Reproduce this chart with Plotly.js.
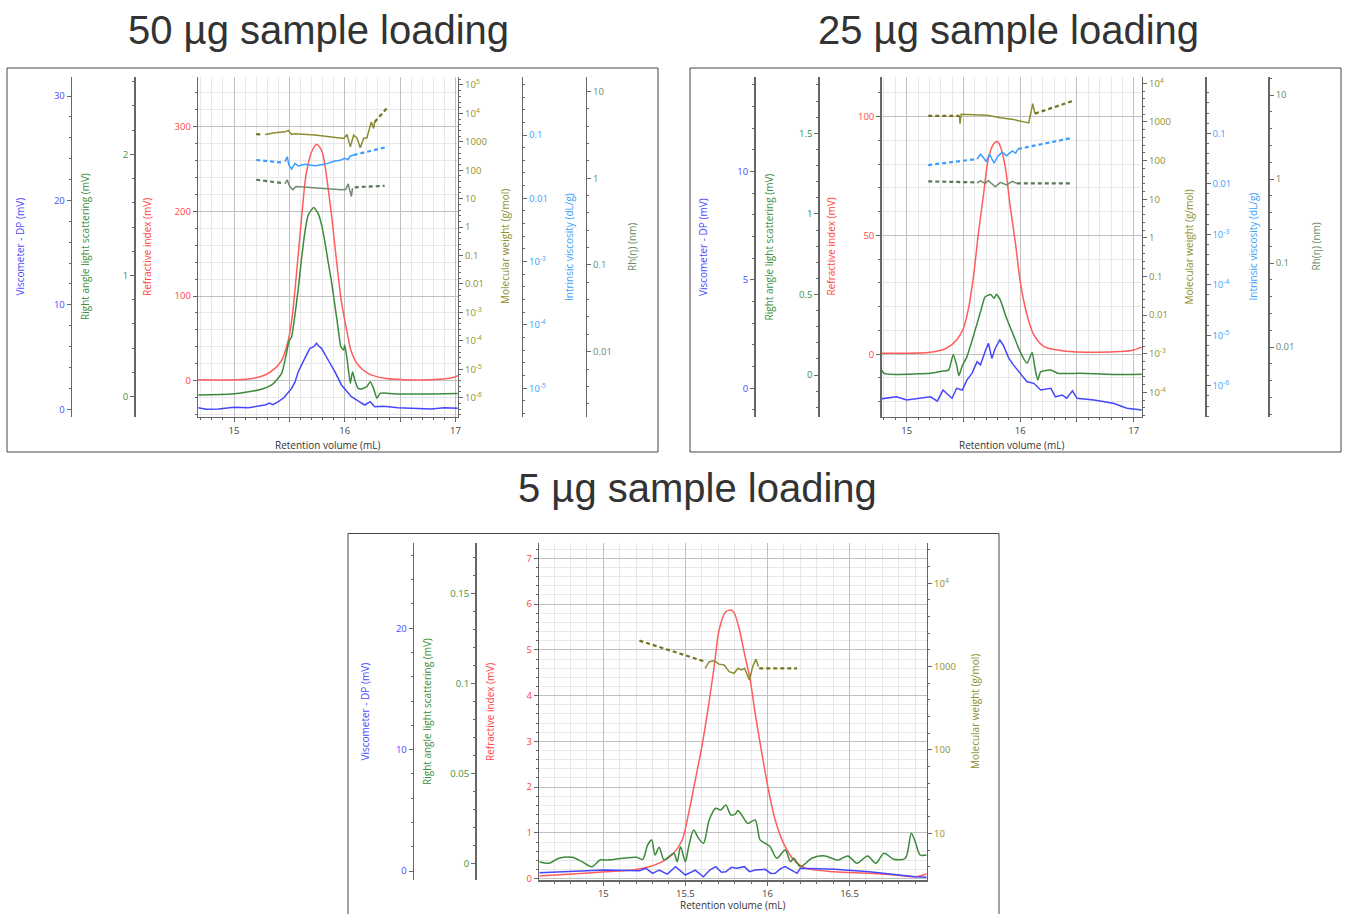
<!DOCTYPE html>
<html><head><meta charset="utf-8">
<script src="https://cdn.plot.ly/plotly-3.0.1.min.js"></script>
<style>html,body{margin:0;padding:0;background:#fff;}#chart{width:1346px;height:914px;}</style>
</head><body><div id="chart"></div>
<script>
// ---------------- DATA ----------------
// Panel 1: 50 µg
const p1_ri_x = [14.67,15.13,15.28,15.37,15.43,15.47,15.50,15.53,15.56,15.59,15.62,15.65,15.70,15.745,15.79,15.82,15.85,15.88,15.91,15.94,15.97,16.02,16.06,16.12,16.21,16.36,16.64,16.85,16.97,17.05];
const p1_ri_y = [1,2,6.7,14.6,24,38,54,81,121,164,207,243,270,279,272,255,227,196,160,125,93,58,34,18.5,8.7,2.8,0.8,1.6,3.5,7.5];
const p1_rals_x = [14.67,14.98,15.22,15.34,15.43,15.47,15.495,15.52,15.55,15.58,15.61,15.64,15.67,15.72,15.76,15.79,15.82,15.85,15.88,15.91,15.94,15.965,15.99,16.00,16.02,16.05,16.07,16.09,16.12,16.15,16.20,16.23,16.26,16.29,16.32,16.48,16.78,17.05];
const p1_rals_y = [0.014,0.022,0.055,0.097,0.193,0.344,0.454,0.495,0.674,0.894,1.142,1.36,1.50,1.56,1.51,1.42,1.28,1.11,0.95,0.757,0.564,0.41,0.385,0.427,0.317,0.11,0.206,0.138,0.069,0.064,0.083,0.124,0.069,-0.013,0.028,0.022,0.022,0.028];
const p1_visc_x = [14.67,14.75,14.86,15.0,15.13,15.22,15.28,15.32,15.35,15.40,15.45,15.47,15.52,15.55,15.58,15.64,15.685,15.72,15.745,15.76,15.79,15.85,15.91,15.97,16.06,16.12,16.18,16.23,16.27,16.35,16.48,16.6,16.78,16.9,17.05];
const p1_visc_y = [0.15,0.0,0.03,0.2,0.15,0.3,0.41,0.6,0.45,0.73,1.1,1.37,2.0,2.6,3.6,4.9,5.84,6.0,6.32,6.1,5.84,4.72,3.6,2.33,1.21,0.8,0.41,0.73,0.25,0.3,0.15,0.1,0.03,0.15,0.1];
const p1_mw_x = [15.28,15.37,15.46,15.49,15.52,15.55,15.73,15.88,15.99,16.02,16.05,16.08,16.11,16.14,16.17,16.20,16.23,16.24,16.26,16.27];
const p1_mw_y = [1820,2089,2239,2512,1820,1905,1738,1479,1318,1820,661,1738,1380,617,1318,1380,3890,5012,2951,5012];
const p1_mw_dl_x = [15.20,15.26], p1_mw_dl_y = [1862,1820];
const p1_mw_dr_x = [16.27,16.39], p1_mw_dr_y = [5012,16980];
const p1_iv_x = [15.46,15.48,15.495,15.52,15.55,15.58,15.64,15.73,15.82,15.91,15.96,16.00,16.03,16.05,16.08];
const p1_iv_y = [0.0380,0.0454,0.0336,0.0290,0.0357,0.0324,0.0344,0.0327,0.0344,0.0389,0.0400,0.0429,0.0410,0.0466,0.0483];
const p1_iv_dl_x = [15.20,15.44], p1_iv_dl_y = [0.0403,0.0366];
const p1_iv_dr_x = [16.08,16.39], p1_iv_dr_y = [0.0483,0.0653];
const p1_rh_x = [15.46,15.48,15.50,15.53,15.56,15.73,15.97,16.01,16.03,16.06,16.07];
const p1_rh_y = [0.861,0.959,0.817,0.734,0.802,0.767,0.734,0.746,0.861,0.615,0.767];
const p1_rh_dl_x = [15.20,15.45], p1_rh_dl_y = [0.959,0.875];
const p1_rh_dr_x = [16.09,16.36], p1_rh_dr_y = [0.785,0.817];

// Panel 2: 25 µg
const p2_ri_x = [14.77,15.21,15.35,15.44,15.50,15.545,15.59,15.63,15.68,15.72,15.77,15.80,15.825,15.87,15.91,15.96,16.00,16.06,16.12,16.21,16.38,16.68,16.88,17.00,17.08];
const p2_ri_y = [0.4,0.8,2.5,6.0,10.9,19.4,33.4,50.2,68.4,82.5,88.8,89.5,87.4,78.3,62.8,46,30.6,16.5,8.1,3.2,1.4,0.8,1.1,1.8,3.2];
const p2_rals_x = [14.77,14.80,14.91,15.21,15.32,15.37,15.41,15.44,15.46,15.49,15.53,15.59,15.65,15.69,15.74,15.77,15.79,15.825,15.88,15.94,16.00,16.06,16.105,16.13,16.155,16.18,16.27,16.33,16.53,16.82,17.08];
const p2_rals_y = [0.041,0.011,0.004,0.011,0.025,0.031,0.128,0.062,-0.004,0.058,0.113,0.248,0.392,0.485,0.50,0.476,0.502,0.465,0.352,0.248,0.144,0.073,0.141,0.042,-0.031,0.020,0.031,0.011,0.011,0.004,0.006];
const p2_visc_x = [14.77,14.91,15.00,15.09,15.21,15.27,15.32,15.35,15.40,15.44,15.49,15.53,15.575,15.62,15.65,15.69,15.72,15.75,15.78,15.82,15.85,15.90,15.94,16.00,16.06,16.12,16.18,16.27,16.31,16.37,16.41,16.46,16.50,16.65,16.82,16.94,17.08];
const p2_visc_y = [-0.49,-0.39,-0.54,-0.49,-0.39,-0.59,-0.08,-0.23,-0.46,0,-0.08,0.38,0.69,1.23,1.08,1.69,2.08,1.38,1.85,2.23,2.0,1.38,1.08,0.69,0.30,0.23,-0.08,0,-0.39,-0.31,-0.46,-0.12,-0.46,-0.54,-0.69,-0.92,-1.00];
const p2_mw_x = [15.465,15.47,15.48,15.53,15.71,15.825,15.94,16.075,16.10,16.11,16.13];
const p2_mw_y = [1430,904,1574,1549,1483,1288,1148,942,2188,2951,1641];
const p2_mw_dl_x = [15.19,15.465], p2_mw_dl_y = [1429,1429];
const p2_mw_dr_x = [16.13,16.46], p2_mw_dr_y = [1641,3467];
const p2_iv_x = [15.62,15.65,15.68,15.70,15.73,15.77,15.80,15.84,15.88,15.93,15.96,15.98];
const p2_iv_y = [0.0310,0.0384,0.0320,0.0274,0.0384,0.0255,0.0344,0.0421,0.0360,0.0447,0.0402,0.0489];
const p2_iv_dl_x = [15.19,15.62], p2_iv_dl_y = [0.0235,0.0310];
const p2_iv_dr_x = [15.98,16.44], p2_iv_dr_y = [0.0489,0.0796];
const p2_rh_x = [15.63,15.65,15.69,15.72,15.78,15.825,15.88,15.93,15.97];
const p2_rh_y = [0.914,0.955,0.889,0.955,0.809,0.914,0.855,0.940,0.889];
const p2_rh_dl_x = [15.19,15.63], p2_rh_dl_y = [0.940,0.914];
const p2_rh_dr_x = [15.97,16.44], p2_rh_dr_y = [0.889,0.889];

// Panel 3: 5 µg
const p3_ri_x = [14.61,14.81,15.01,15.18,15.28,15.36,15.42,15.48,15.52,15.56,15.60,15.64,15.675,15.705,15.745,15.78,15.80,15.83,15.86,15.895,15.925,15.966,16.006,16.047,16.098,16.16,16.23,16.41,16.62,16.78,16.90,16.97];
const p3_ri_y = [0.06,0.10,0.15,0.19,0.26,0.37,0.52,0.84,1.43,2.15,2.88,3.76,4.63,5.43,5.83,5.87,5.79,5.43,4.92,4.34,3.61,2.74,1.94,1.28,0.77,0.41,0.23,0.15,0.12,0.08,0.04,0.10];
const p3_rals_x = [14.61,14.67,14.73,14.81,14.87,14.93,14.98,15.03,15.12,15.20,15.24,15.27,15.295,15.315,15.34,15.37,15.40,15.43,15.45,15.47,15.50,15.52,15.55,15.58,15.61,15.645,15.685,15.715,15.746,15.777,15.805,15.82,15.85,15.88,15.925,15.955,15.986,16.016,16.057,16.108,16.14,16.16,16.20,16.27,16.35,16.43,16.49,16.545,16.61,16.66,16.71,16.77,16.84,16.876,16.90,16.93,16.97];
const p3_rals_y = [0.0009,0.0,0.0028,0.0033,0.0009,-0.0019,0.0018,0.0018,0.0028,0.0033,0.0022,0.0102,0.013,0.0046,0.0089,0.0018,0.0037,0.0056,0.0009,0.0092,0.0009,0.0092,0.0185,0.0139,0.0111,0.0241,0.0306,0.0296,0.0324,0.0269,0.0275,0.0293,0.0259,0.0222,0.0241,0.013,0.0111,0.0092,0.0028,0.0074,0.0009,0.0028,-0.0019,0.0028,0.0041,0.0018,0.0041,0.0,0.0041,0.0,0.0056,0.0022,0.0028,0.0167,0.012,0.0046,0.0046];
const p3_visc_x = [14.61,14.81,15.01,15.22,15.26,15.30,15.34,15.39,15.44,15.50,15.56,15.61,15.65,15.685,15.72,15.746,15.78,15.81,15.86,15.89,15.925,15.986,16.02,16.047,16.08,16.108,16.18,16.20,16.41,16.62,16.78,16.90,16.97];
const p3_visc_y = [-0.14,-0.06,0.08,0.03,0.22,-0.19,0.08,-0.25,0.36,-0.33,0.08,-0.47,0.1,0.36,-0.1,-0.06,0.3,0.22,0.36,-0.05,0.08,0.14,-0.2,-0.19,0.2,0.36,-0.19,0.22,0.14,-0.06,-0.33,-0.47,-0.52];
const p3_mw_x = [15.62,15.645,15.675,15.705,15.736,15.767,15.797,15.82,15.84,15.86,15.89,15.91,15.93,15.945];
const p3_mw_y = [955,1148,1175,1072,1047,871,832,955,912,955,692,1000,1230,1000];
const p3_mw_dl_x = [15.22,15.62], p3_mw_dl_y = [2051,1148];
const p3_mw_dr_x = [15.95,16.18], p3_mw_dr_y = [955,955];

// Tick labels
const xTicks12 = [14.5,15,15.5,16,16.5,17,17.5];
const xText12 = ['','15','','16','','17',''];
const xTicks3 = [14.5,15,15.5,16,16.5,17];
const xText3 = ['','15','15.5','16','16.5',''];
const mw1_vals = [1e-6,1e-5,1e-4,1e-3,0.01,0.1,1,10,100,1000,1e4,1e5];
const mw1_text = ['10<sup>-6</sup>','10<sup>-5</sup>','10<sup>-4</sup>','10<sup>-3</sup>','0.01','0.1','1','10','100','1000','10<sup>4</sup>','10<sup>5</sup>'];
const iv1_vals = [1e-5,1e-4,1e-3,0.01,0.1];
const iv1_text = ['10<sup>-5</sup>','10<sup>-4</sup>','10<sup>-3</sup>','0.01','0.1'];
const rh_vals = [0.01,0.1,1,10];
const rh_text = ['0.01','0.1','1','10'];
const mw2_vals = [1e-4,1e-3,0.01,0.1,1,10,100,1000,1e4];
const mw2_text = ['10<sup>-4</sup>','10<sup>-3</sup>','0.01','0.1','1','10','100','1000','10<sup>4</sup>'];
const iv2_vals = [1e-6,1e-5,1e-4,1e-3,0.01,0.1];
const iv2_text = ['10<sup>-6</sup>','10<sup>-5</sup>','10<sup>-4</sup>','10<sup>-3</sup>','0.01','0.1'];
const mw3_vals = [10,100,1000,1e4];
const mw3_text = ['10','100','1000','10<sup>4</sup>'];

const panelTitles = ['50 µg sample loading','25 µg sample loading','5 µg sample loading'];

// ---------------- STYLE / LAYOUT ----------------
const W = 1346, H = 914;
const fx = v => v / W, fy = v => 1 - v / H;
const FONT = 'Open Sans, DejaVu Sans, sans-serif';
const AX = '#666666';
const C = {visc:'#4646ff', rals:'#3b8a3b', ri:'#ff5c5c', mw:'#8c8c30', mwd:'#73731f', iv:'#3b9cff', rh:'#6f8c6f', rhd:'#5c765c'};
const L = {visc:'#4a4aff', rals:'#3d8f3d', ri:'#ff4545', mw:'#8f8f2a', iv:'#3ca0ff', rh:'#6b8b6b'};

// minor tick positions for log axes: 5 subdivisions per decade (as in the reference)
function logMinor(lo, hi){ const a=[]; for(let k=lo;k<hi;k++){ for(let i=1;i<5;i++){ a.push(Math.pow(10,k+i*0.2)); } } return a; }

function ax(color, extra){
  return Object.assign({
    showline:true, linecolor:AX, linewidth:1.5, ticks:'outside', ticklen:4, tickwidth:1, tickcolor:AX,
    tickfont:{family:FONT, size:9.5, color:color}, showgrid:false, zeroline:false, fixedrange:true
  }, extra);
}
function linAx(color, range, dtick, mdtick, extra){
  return ax(color, Object.assign({range:range, tick0:0, dtick:dtick,
    minor:{tick0:0, dtick:mdtick, ticks:'outside', ticklen:2, tickcolor:AX}}, extra||{}));
}
function logAx(color, range, vals, text, extra){
  return ax(color, Object.assign({type:'log', range:range, tickmode:'array', tickvals:vals, ticktext:text,
    minor:{tickmode:'array', tickvals:logMinor(Math.floor(range[0])-1, Math.ceil(range[1])+1), ticks:'outside', ticklen:2, tickcolor:AX}}, extra||{}));
}
const GRID = {showgrid:true, gridcolor:'#c0c0c0', gridwidth:1};
const MGRID = {showgrid:true, gridcolor:'#e8e8e8', gridwidth:1};
function xAx(domain, range, tv, tt, anchor){
  return ax('#444', Object.assign({domain:domain, range:range, anchor:anchor, tickmode:'array', tickvals:tv, ticktext:tt,
    minor:Object.assign({tick0:14, dtick:0.1, ticks:'outside', ticklen:2, tickcolor:AX}, MGRID)}, GRID));
}
function riAx(domain, range, dtick, mdtick, anchor){
  const a = linAx(L.ri, range, dtick, mdtick, Object.assign({domain:domain, anchor:anchor}, GRID));
  a.minor = Object.assign(a.minor, MGRID);
  return a;
}
function free(base, pos, side){ return {overlaying:base, anchor:'free', position:pos, side:side}; }

const d12 = [fy(416.7), fy(76.7)], d3 = [fy(880), fy(543.3)];
const layout = {
  width:W, height:H, margin:{l:0,r:0,t:0,b:0}, showlegend:false,
  paper_bgcolor:'#ffffff', plot_bgcolor:'rgba(0,0,0,0)', font:{family:FONT},
  // Panel 1
  xaxis: xAx([fx(198.3), fx(457.7)], [14.677, 17.02], xTicks12, xText12, 'y'),
  yaxis: riAx(d12, [-42.5, 359], 100, 20, 'x'),
  yaxis2: linAx(L.visc, [-0.71, 31.85], 10, 2, free('y', fx(70.7), 'left')),
  yaxis3: linAx(L.rals, [-0.165, 2.64], 1, 0.2, free('y', fx(134), 'left')),
  yaxis4: logAx(L.mw, [-6.67, 5.29], mw1_vals, mw1_text, {overlaying:'y', anchor:'x', side:'right'}),
  yaxis5: logAx(L.iv, [-5.45, -0.079], iv1_vals, iv1_text, free('y', fx(521.7), 'right')),
  yaxis6: logAx(L.rh, [-2.75, 1.17], rh_vals, rh_text, free('y', fx(585.7), 'right')),
  // Panel 2
  xaxis2: xAx([fx(881.7), fx(1141.7)], [14.78, 17.07], xTicks12, xText12, 'y7'),
  yaxis7: riAx(d12, [-26.3, 116.8], 50, 10, 'x2'),
  yaxis8: linAx(L.visc, [-1.31, 14.38], 5, 1, free('y7', fx(754), 'left')),
  yaxis9: linAx(L.rals, [-0.258, 1.851], 0.5, 0.1, free('y7', fx(818.3), 'left')),
  yaxis10: logAx(L.mw, [-4.63, 4.17], mw2_vals, mw2_text, {overlaying:'y7', anchor:'x2', side:'right'}),
  yaxis11: logAx(L.iv, [-6.61, 0.12], iv2_vals, iv2_text, free('y7', fx(1205), 'right')),
  yaxis12: logAx(L.rh, [-2.83, 1.22], rh_vals, rh_text, free('y7', fx(1268.3), 'right')),
  // Panel 3
  xaxis3: xAx([fx(539.3), fx(926.7)], [14.61, 16.97], xTicks3, xText3, 'y13'),
  yaxis13: riAx(d3, [-0.03, 7.33], 1, 0.2, 'x3'),
  yaxis14: linAx(L.visc, [-0.74, 27.0], 10, 2, free('y13', fx(412.7), 'left')),
  yaxis15: linAx(L.rals, [-0.0093, 0.178], 0.05, 0.01, free('y13', fx(475), 'left')),
  yaxis16: logAx(L.mw, [0.44, 4.48], mw3_vals, mw3_text, {overlaying:'y13', anchor:'x3', side:'right'}),
  shapes: [
    {type:'rect', xref:'paper', yref:'paper', x0:fx(7), x1:fx(658), y0:fy(452), y1:fy(68), line:{color:'#444', width:1}},
    {type:'rect', xref:'paper', yref:'paper', x0:fx(690), x1:fx(1341), y0:fy(452), y1:fy(68), line:{color:'#444', width:1}},
    {type:'rect', xref:'paper', yref:'paper', x0:fx(348), x1:fx(999), y0:fy(925), y1:fy(533.5), line:{color:'#444', width:1}}
  ],
  annotations: []
};

function ann(text, x, y, color, size, angle){
  layout.annotations.push({text:text, x:fx(x), y:fy(y), xref:'paper', yref:'paper', showarrow:false,
    xanchor:'center', yanchor:'middle', textangle:angle||0, font:{family:FONT, size:size, color:color}});
}
// panel titles
layout.annotations.push(...[[318,30],[1008,30],[697,488]].map((p,i)=>({text:panelTitles[i], x:fx(p[0]), y:fy(p[1]),
  xref:'paper', yref:'paper', showarrow:false, xanchor:'center', yanchor:'middle',
  font:{family:'Liberation Sans, Arial, sans-serif', size:40, color:'#333'}})));
// axis titles
const T = {visc:'Viscometer - DP (mV)', rals:'Right angle light scattering (mV)', ri:'Refractive index (mV)',
  mw:'Molecular weight (g/mol)', iv:'Intrinsic viscosity (dL/g)', rh:'Rh(η) (nm)', x:'Retention volume (mL)'};
const TS = 10;
[[0,247],[683.5,247]].forEach(([o,y])=>{
  ann(T.visc, 19.5+o, y, L.visc, TS, -90);
  ann(T.rals, 85+o, y, L.rals, TS, -90);
  ann(T.ri, 147+o, y, L.ri, TS, -90);
  ann(T.mw, 505+o, y, L.mw, TS, -90);
  ann(T.iv, 569+o, y, L.iv, TS, -90);
  ann(T.rh, 632+o, y, L.rh, TS, -90);
});
ann(T.x, 328, 445, '#333', TS, 0);
ann(T.x, 1012, 445, '#333', TS, 0);
ann(T.visc, 364.5, 712, L.visc, TS, -90);
ann(T.rals, 427, 712, L.rals, TS, -90);
ann(T.ri, 490, 712, L.ri, TS, -90);
ann(T.mw, 975, 712, L.mw, TS, -90);
ann(T.x, 733, 905, '#333', TS, 0);

// ---------------- TRACES ----------------
function tr(x, y, xa, ya, color, opts){
  opts = opts || {};
  return {type:'scatter', mode:'lines', x:x, y:y, xaxis:xa, yaxis:ya, hoverinfo:'skip',
    line:{color:color, width:opts.w||1.5, dash:opts.dash||'solid', shape:opts.shape||'linear', smoothing:opts.sm||1}};
}
const DASH = {dash:'4px,3px', w:2.2};
const data = [
  // panel 1
  tr(p1_ri_x, p1_ri_y, 'x', 'y', C.ri, {shape:'spline', sm:0.8}),
  tr(p1_visc_x, p1_visc_y, 'x', 'y2', C.visc),
  tr(p1_rals_x, p1_rals_y, 'x', 'y3', C.rals, {shape:'spline', sm:0.5}),
  tr(p1_mw_x, p1_mw_y, 'x', 'y4', C.mw),
  tr(p1_mw_dl_x, p1_mw_dl_y, 'x', 'y4', C.mwd, DASH),
  tr(p1_mw_dr_x, p1_mw_dr_y, 'x', 'y4', C.mwd, DASH),
  tr(p1_iv_x, p1_iv_y, 'x', 'y5', C.iv),
  tr(p1_iv_dl_x, p1_iv_dl_y, 'x', 'y5', C.iv, DASH),
  tr(p1_iv_dr_x, p1_iv_dr_y, 'x', 'y5', C.iv, DASH),
  tr(p1_rh_x, p1_rh_y, 'x', 'y6', C.rh),
  tr(p1_rh_dl_x, p1_rh_dl_y, 'x', 'y6', C.rhd, DASH),
  tr(p1_rh_dr_x, p1_rh_dr_y, 'x', 'y6', C.rhd, DASH),
  // panel 2
  tr(p2_ri_x, p2_ri_y, 'x2', 'y7', C.ri, {shape:'spline', sm:0.8}),
  tr(p2_visc_x, p2_visc_y, 'x2', 'y8', C.visc),
  tr(p2_rals_x, p2_rals_y, 'x2', 'y9', C.rals, {shape:'spline', sm:0.5}),
  tr(p2_mw_x, p2_mw_y, 'x2', 'y10', C.mw),
  tr(p2_mw_dl_x, p2_mw_dl_y, 'x2', 'y10', C.mwd, DASH),
  tr(p2_mw_dr_x, p2_mw_dr_y, 'x2', 'y10', C.mwd, DASH),
  tr(p2_iv_x, p2_iv_y, 'x2', 'y11', C.iv),
  tr(p2_iv_dl_x, p2_iv_dl_y, 'x2', 'y11', C.iv, DASH),
  tr(p2_iv_dr_x, p2_iv_dr_y, 'x2', 'y11', C.iv, DASH),
  tr(p2_rh_x, p2_rh_y, 'x2', 'y12', C.rh),
  tr(p2_rh_dl_x, p2_rh_dl_y, 'x2', 'y12', C.rhd, DASH),
  tr(p2_rh_dr_x, p2_rh_dr_y, 'x2', 'y12', C.rhd, DASH),
  // panel 3
  tr(p3_ri_x, p3_ri_y, 'x3', 'y13', C.ri, {shape:'spline', sm:0.8}),
  tr(p3_visc_x, p3_visc_y, 'x3', 'y14', C.visc),
  tr(p3_rals_x, p3_rals_y, 'x3', 'y15', C.rals, {shape:'spline', sm:0.8}),
  tr(p3_mw_x, p3_mw_y, 'x3', 'y16', C.mw),
  tr(p3_mw_dl_x, p3_mw_dl_y, 'x3', 'y16', C.mwd, DASH),
  tr(p3_mw_dr_x, p3_mw_dr_y, 'x3', 'y16', C.mwd, DASH)
];

Plotly.newPlot('chart', data, layout, {displayModeBar:false, staticPlot:true});
</script></body></html>
